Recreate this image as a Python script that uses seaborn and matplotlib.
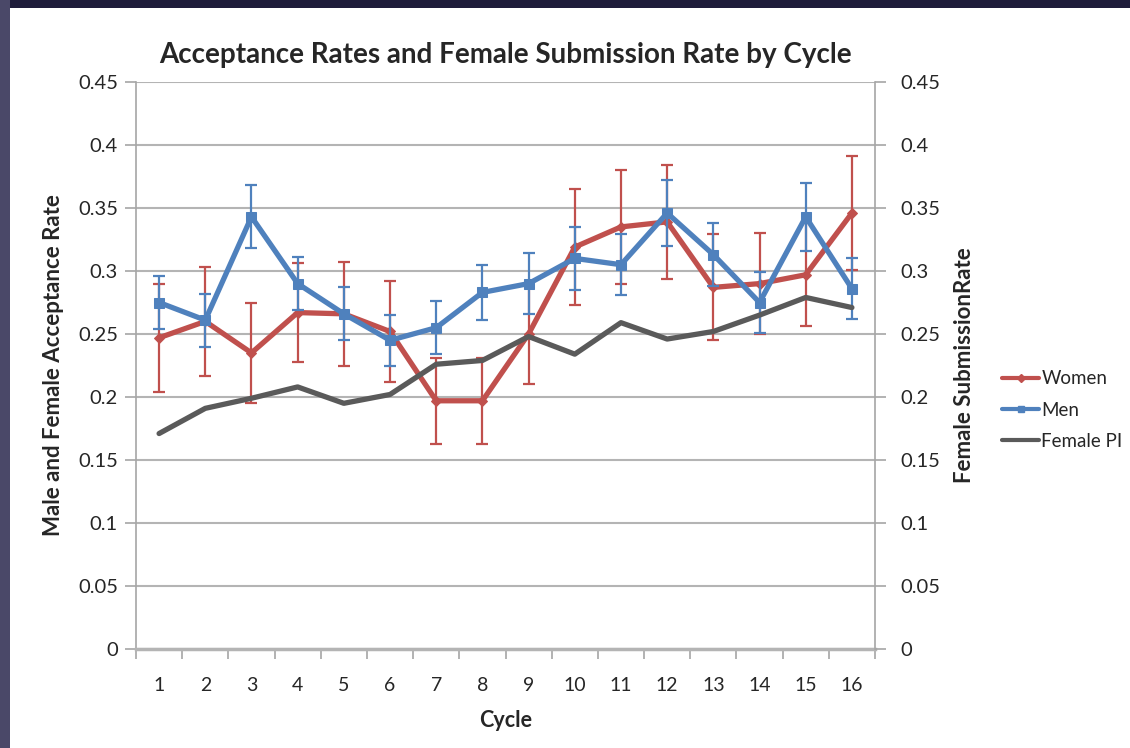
import numpy as np
import pandas as pd
import matplotlib
matplotlib.use('Agg')
import matplotlib.pyplot as plt
from matplotlib.patches import Rectangle
from matplotlib.lines import Line2D
import seaborn as sns

# data
cycles = list(range(1, 17))
women = [0.247, 0.260, 0.235, 0.267, 0.266, 0.252, 0.197, 0.197,
         0.250, 0.319, 0.335, 0.339, 0.287, 0.290, 0.297, 0.346]
women_err = [0.043, 0.043, 0.040, 0.039, 0.041, 0.040, 0.034, 0.034,
             0.040, 0.046, 0.045, 0.045, 0.042, 0.040, 0.041, 0.045]
men = [0.275, 0.261, 0.343, 0.290, 0.266, 0.245, 0.255, 0.283,
       0.290, 0.310, 0.305, 0.346, 0.313, 0.275, 0.343, 0.286]
men_err = [0.021, 0.021, 0.025, 0.021, 0.021, 0.020, 0.021, 0.022,
           0.024, 0.025, 0.024, 0.026, 0.025, 0.024, 0.027, 0.024]
female_pi = [0.171, 0.191, 0.199, 0.208, 0.195, 0.202, 0.226, 0.229,
             0.248, 0.234, 0.259, 0.246, 0.252, 0.265, 0.279, 0.271]
y_ticks = [0, 0.05, 0.1, 0.15, 0.2, 0.25, 0.3, 0.35, 0.4, 0.45]
y_labels = ['0', '0.05', '0.1', '0.15', '0.2', '0.25', '0.3', '0.35', '0.4', '0.45']

red = '#c0504d'
blue = '#4f81bd'
grey = '#5a5a5a'
axis_grey = '#a6a6a6'

sns.set_theme(style='white')
plt.rcParams['font.family'] = ['Lato', 'DejaVu Sans']

fig = plt.figure(figsize=(11.3, 7.48), dpi=100)
fig.patch.set_facecolor('white')
# dark slide border on top and left
fig.patches.append(Rectangle((0, 1 - 8 / 748), 1, 8 / 748, transform=fig.transFigure,
                             facecolor='#1f1d3b', edgecolor='none'))
fig.patches.append(Rectangle((0, 0), 10 / 1130, 1, transform=fig.transFigure,
                             facecolor='#4a4868', edgecolor='none'))

ax = fig.add_axes([136 / 1130, 99 / 748, 739 / 1130, 567 / 748])
ax.set_facecolor('none')

df = pd.DataFrame({'Cycle': cycles, 'Women': women, 'Men': men})
ax.errorbar(cycles, women, yerr=women_err, fmt='none', ecolor=red,
            elinewidth=1.6, capsize=4, capthick=1.6, zorder=3)
sns.lineplot(data=df, x='Cycle', y='Women', ax=ax, color=red, lw=3.8,
             marker='D', markersize=5, markeredgecolor=red, zorder=4)
ax.errorbar(cycles, men, yerr=men_err, fmt='none', ecolor=blue,
            elinewidth=1.6, capsize=4, capthick=1.6, zorder=5)
sns.lineplot(data=df, x='Cycle', y='Men', ax=ax, color=blue, lw=3.8,
             marker='s', markersize=7, markeredgecolor=blue, zorder=6)

ax.set_xlim(0.5, 16.5)
ax.set_ylim(0, 0.45)
ax.set_yticks(y_ticks)
ax.set_yticklabels(y_labels)
ax.set_xticks(cycles)
ax.set_xticks(np.arange(0.5, 17, 1), minor=True)
ax.tick_params(axis='x', which='major', length=0, labelsize=14, pad=20)
ax.tick_params(axis='x', which='minor', length=7, width=1.2, color=axis_grey, direction='out', bottom=True)
ax.tick_params(axis='y', length=8, width=1.2, color=axis_grey, direction='out',
               labelsize=14.5, pad=5, left=True)
ax.yaxis.grid(True, color='#b4b4b4', lw=1.5)
ax.set_axisbelow(True)
for s in ['top', 'right']:
    ax.spines[s].set_visible(False)
ax.spines['left'].set_color(axis_grey)
ax.spines['left'].set_linewidth(1.2)
ax.spines['bottom'].set_color('#b4b4b4')
ax.spines['bottom'].set_linewidth(2.5)
ax.set_xlabel('Cycle', fontsize=15.5, fontweight='bold', labelpad=12)
ax.set_ylabel('Male and Female Acceptance Rate', fontsize=16, fontweight='bold', labelpad=10)
ax.set_title('Acceptance Rates and Female Submission Rate by Cycle',
             fontsize=20, fontweight='bold', pad=14)

ax2 = ax.twinx()
ax2.set_facecolor('none')
sns.lineplot(x=cycles, y=female_pi, ax=ax2, color=grey, lw=3.8, zorder=4)
ax2.set_ylim(0, 0.45)
ax2.set_yticks(y_ticks)
ax2.set_yticklabels(y_labels)
ax2.tick_params(axis='y', length=8, width=1.2, color=axis_grey, direction='out',
                labelsize=14.5, pad=10, right=True)
for s in ['top', 'left', 'bottom']:
    ax2.spines[s].set_visible(False)
ax2.spines['right'].set_color(axis_grey)
ax2.spines['right'].set_linewidth(1.2)
ax2.set_ylabel('Female SubmissionRate', fontsize=16, fontweight='bold', labelpad=10)

handles = [Line2D([], [], color=red, lw=3, marker='D', markersize=4),
           Line2D([], [], color=blue, lw=3, marker='s', markersize=5),
           Line2D([], [], color=grey, lw=3)]
fig.legend(handles, ['Women', 'Men', 'Female PI'], loc='center left',
           bbox_to_anchor=(985 / 1130, 1 - 410 / 748), frameon=False,
           fontsize=13.5, handlelength=2.0, handletextpad=0.1, labelspacing=0.75)

fig.savefig('out.png', dpi=100, facecolor=fig.get_facecolor())
